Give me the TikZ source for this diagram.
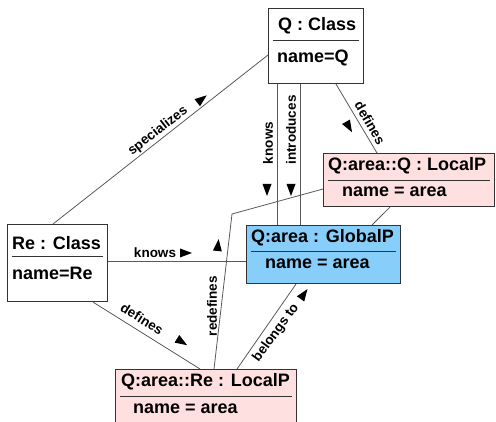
\documentclass[tikz,border=0pt]{standalone}
\usepackage{fontspec}
\newfontfamily\figfont{Liberation Sans}
\definecolor{localpink}{RGB}{255,224,224}
\definecolor{globalblue}{RGB}{135,206,250}
\tikzset{
  objbox/.style={draw=black!80,line width=1.1pt,anchor=north west,inner sep=0pt},
  boxtxt/.style={anchor=west,inner sep=0pt,font=\figfont\bfseries\fontsize{18}{18}\selectfont},
  rel/.style={draw=black!65,line width=.8pt},
  rellbl/.style={inner sep=0pt,font=\figfont\bfseries\fontsize{13.5}{13.5}\selectfont},
}
\begin{document}
\begin{tikzpicture}[x=1pt,y=1pt]
\useasboundingbox (0,0) rectangle (496,-422);
% objects: name/x/y/w/h/fill/title/attribute/title y/rule y/attr y/title x/attr x
\foreach \n/\x/\y/\w/\h/\c/\t/\a/\dt/\ds/\da/\it/\ia in {
  qclass/268/8/95/75/white/{Q : Class}/{name=Q}/18/32/50/10/9,
  qlocal/323/153/171/53/localpink/{Q:area::Q : LocalP}/{name = area}/12.5/27/39/5/19,
  reclass/7/224/100/77/white/{Re : Class}/{name=Re}/19/32/49/5/5,
  global/246/225/154/58/globalblue/{Q:area : GlobalP}/{name = area}/12.5/26/39/5/19,
  relocal/115/369/181/60/localpink/{Q:area::Re : LocalP}/{name = area}/13/27/39.5/6/18}
{
  \node[objbox,fill=\c,minimum width=\w pt,minimum height=\h pt] (\n) at (\x,-\y) {};
  \node[boxtxt] (\n-t) at ([shift={(\it,-\dt)}]\n.north west) {\t};
  \draw[black!80,line width=.9pt] ([shift={(5,-\ds)}]\n.north west) -- ([shift={(-5,-\ds)}]\n.north east);
  \node[boxtxt] (\n-a) at ([shift={(\ia,-\da)}]\n.north west) {\a};
}
% relations
\coordinate (bend) at (232,-214);
\draw[rel] ([xshift=46pt]reclass.north west) -- ([yshift=-47pt]qclass.north west);
\draw[rel] ([xshift=9pt]qclass.south west) coordinate (k1) -- (k1 |- global.north);
\draw[rel] ([xshift=32pt]qclass.south west) coordinate (k2) -- (k2 |- global.north);
\draw[rel] ([xshift=68pt]qclass.south west) -- ([xshift=54pt]qlocal.north west);
\draw[rel] ([xshift=67pt]qlocal.south west) -- ([xshift=126pt]global.north west);
\draw[rel] ([xshift=99pt]relocal.north west) -- (bend) -- ([yshift=-36pt]qlocal.north west);
\draw[rel] ([yshift=-37pt]reclass.north east) coordinate (k3) -- (k3 -| global.west);
\draw[rel] ([xshift=86pt]reclass.south west) -- ([xshift=85pt]relocal.north west);
\draw[rel] ([xshift=122pt]relocal.north west) -- ([xshift=50pt]global.south west);
% labels
\foreach \n/\x/\y/\r/\s in {lspec/158/131/38/specializes, lknq/268/143/90/knows,
  lintro/291/130/90/introduces, ldefq/370/123/-60/defines, lredef/212/306/90/redefines,
  lknre/155/253/0/knows, ldefre/142/319/-32/defines, lbelong/276/333/54/belongs to}
  \node[rellbl,rotate=\r] (\n) at (\x,-\y) {\s};
% direction marks
\foreach \x/\y/\r in {202/99/38, 267/190/-90, 291/190/-90, 349/127/-60,
  218/245/84, 186/253/0, 182/342/-32, 304/294/55}
  \fill[black,shift={(\x,-\y)},rotate=\r] (6,0)--(-6,4.5)--(-6,-4.5)--cycle;
\end{tikzpicture}
\end{document}
